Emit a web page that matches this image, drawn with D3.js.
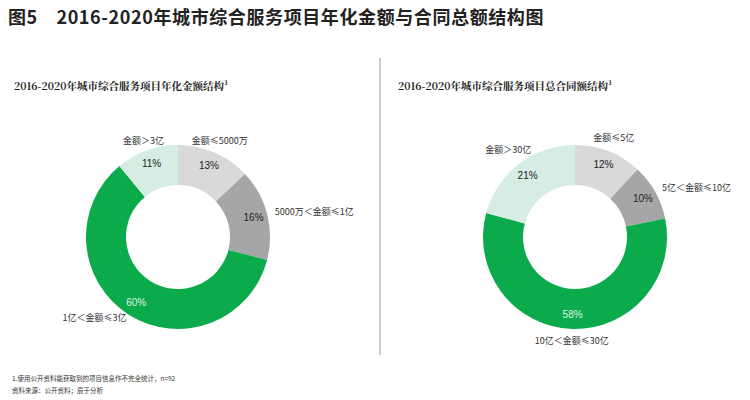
<!DOCTYPE html>
<html><head><meta charset="utf-8">
<script src="https://cdn.jsdelivr.net/npm/d3@7"></script>
<style>body{margin:0;background:#fff}</style></head>
<body><svg id="c" width="750" height="400"></svg>
<script>
const leftCats=["金额≤5000万","5000万＜金额≤1亿","1亿＜金额≤3亿","金额＞3亿"];
const leftVals=[13,16,60,11];
const rightCats=["金额≤5亿","5亿＜金额≤10亿","10亿＜金额≤30亿","金额＞30亿"];
const rightVals=[12,10,58,21];
const colors=["#d9d9d9","#a6a6a6","#0bab4c","#d6ede3"];
const svg=d3.select("#c");
const F="'Noto Sans CJK SC','Noto Sans',sans-serif";
svg.append("text").attr("x",8).attr("y",24).attr("font-family",F).attr("font-weight","bold").attr("font-size",18).attr("letter-spacing",0.6).attr("fill","#222").text("图5　2016-2020年城市综合服务项目年化金额与合同总额结构图");
svg.append("text").attr("x",14).attr("y",90).attr("font-family","'Noto Serif CJK SC',"+F).attr("font-weight","bold").attr("font-size",10.5).attr("fill","#222").text("2016-2020年城市综合服务项目年化金额结构¹");
svg.append("text").attr("x",398).attr("y",90).attr("font-family","'Noto Serif CJK SC',"+F).attr("font-weight","bold").attr("font-size",10.5).attr("fill","#222").text("2016-2020年城市综合服务项目总合同额结构¹");
svg.append("line").attr("x1",380).attr("x2",380).attr("y1",58).attr("y2",355).attr("stroke","#999").attr("stroke-width",1);
svg.append("text").attr("x",12).attr("y",381).attr("font-family",F).attr("font-size",6.5).attr("fill","#333").text("1.使用公开资料能获取到的项目信息作不完全统计，n=92");
svg.append("text").attr("x",12).attr("y",393).attr("font-family",F).attr("font-size",6.5).attr("fill","#333").text("资料来源：公开资料；辰于分析");

function donut(cx,cy,cats,vals,labelPos){
  const g=svg.append("g").attr("transform",`translate(${cx},${cy})`);
  const pie=d3.pie().sort(null)(vals);
  const arc=d3.arc().innerRadius(52).outerRadius(92);
  const lab=d3.arc().innerRadius(78).outerRadius(78);
  g.selectAll("path").data(pie).join("path").attr("d",arc).attr("fill",(d,i)=>colors[i]);
  g.selectAll("text.p").data(pie).join("text").attr("class","p")
    .attr("transform",d=>`translate(${lab.centroid(d)})`).attr("text-anchor","middle").attr("dy","0.35em")
    .attr("font-family","Arial,'Liberation Sans',sans-serif").attr("font-size",10)
    .attr("fill",(d,i)=>i==2?"#dff5e6":"#222").text(d=>d.data+"%");
  g.selectAll("text.c").data(pie).join("text").attr("class","c")
    .attr("transform",(d,i)=>{const a=(d.startAngle+d.endAngle)/2;const r=labelPos[i][0];return `translate(${Math.sin(a)*r},${-Math.cos(a)*r})`;})
    .attr("text-anchor",(d,i)=>labelPos[i][1]).attr("dy","0.35em")
    .attr("font-family",F).attr("font-size",9).attr("fill","#333").text((d,i)=>cats[i]);
}
donut(178,237,leftCats,leftVals,[[105,"middle"],[100,"start"],[96,"end"],[102,"middle"]]);
donut(575,237,rightCats,rightVals,[[106,"middle"],[100,"start"],[104,"middle"],[110,"middle"]]);
</script></body></html>
